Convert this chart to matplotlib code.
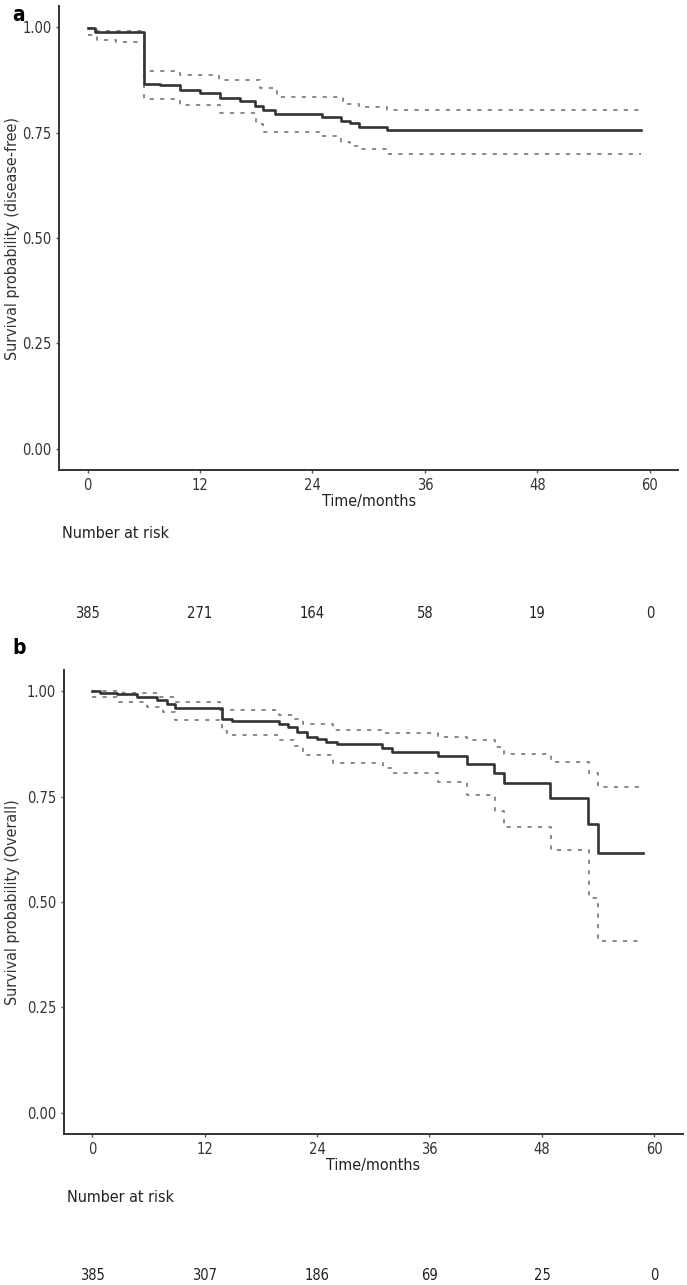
import numpy as np
import matplotlib
matplotlib.use("Agg")
import matplotlib.pyplot as plt

plt.rcParams['font.family'] = ['DejaVu Sans']
plt.rcParams['font.stretch'] = 'condensed'

# Panel a: disease-free survival (step times in months, survival, CI)
dfs_time = [0, 0.8, 6.0, 7.7, 9.9, 12.0, 14.1, 16.3, 17.9, 18.7, 20.0, 25.0, 27.0, 28.0, 29.0, 32.0, 59.0]
dfs_surv = [0.998, 0.988, 0.866, 0.862, 0.852, 0.843, 0.833, 0.825, 0.813, 0.803, 0.794, 0.787, 0.778, 0.772, 0.764, 0.756, 0.756]
dfs_up_time = [0, 1.0, 6.0, 9.9, 14.0, 18.4, 20.2, 27.3, 29.0, 32.0, 59.0]
dfs_up = [0.998, 0.991, 0.896, 0.886, 0.874, 0.855, 0.835, 0.818, 0.810, 0.803, 0.803]
dfs_lo_time = [0, 1.0, 3.0, 6.0, 9.9, 14.1, 18.0, 18.7, 24.8, 27.0, 28.0, 28.9, 32.0, 59.0]
dfs_lo = [0.981, 0.969, 0.965, 0.829, 0.815, 0.797, 0.770, 0.752, 0.742, 0.728, 0.719, 0.711, 0.699, 0.699]
dfs_risk = [385, 271, 164, 58, 19, 0]

# Panel b: overall survival
os_time = [0, 0.85, 2.7, 4.8, 6.9, 8.0, 8.8, 13.9, 14.9, 19.9, 20.9, 21.9, 22.9, 24.0, 25.0, 26.1,
           30.9, 32.0, 36.9, 40.0, 42.9, 43.9, 48.9, 52.9, 54.0, 58.8]
os_surv = [1.0, 0.996, 0.992, 0.987, 0.979, 0.969, 0.959, 0.935, 0.930, 0.922, 0.914, 0.904, 0.892, 0.886,
           0.880, 0.874, 0.866, 0.856, 0.845, 0.827, 0.805, 0.781, 0.746, 0.685, 0.615, 0.615]
os_up_time = [0, 3.3, 6.9, 9.0, 13.7, 19.9, 21.5, 22.5, 25.7, 30.9, 36.9, 40.0, 43.0, 44.0, 49.0, 53.0, 54.0, 58.8]
os_up = [1.0, 0.995, 0.985, 0.975, 0.955, 0.943, 0.935, 0.923, 0.908, 0.900, 0.890, 0.884, 0.868, 0.851,
         0.833, 0.807, 0.772, 0.772]
os_lo_time = [0, 2.7, 5.9, 7.6, 8.9, 13.9, 14.4, 19.9, 21.5, 22.5, 25.7, 31.0, 32.0, 36.9, 40.0, 43.0,
              44.0, 49.0, 53.0, 54.0, 58.8]
os_lo = [0.985, 0.975, 0.963, 0.951, 0.931, 0.906, 0.896, 0.884, 0.870, 0.848, 0.829, 0.817, 0.805, 0.785,
         0.754, 0.716, 0.677, 0.623, 0.509, 0.408, 0.408]
os_risk = [385, 307, 186, 69, 25, 0]

risk_ticks = [0, 12, 24, 36, 48, 60]
yticks = [0.0, 0.25, 0.5, 0.75, 1.0]

W, H = 687, 1285
fig = plt.figure(figsize=(W / 100, H / 100), dpi=100)

axis_col = '#333333'


def px_axes(x0, x1, ytop, ybot):
    return fig.add_axes([x0 / W, 1 - ybot / H, (x1 - x0) / W, (ybot - ytop) / H])


def draw_panel(ax, t, s, tu, su, tl, sl, ylabel, ybounds):
    # confidence band edges first, survival curve on top
    ax.step(tu, su, where='post', color='#808080', lw=1.3, ls=(0, (2.3, 3.5)))
    ax.step(tl, sl, where='post', color='#808080', lw=1.3, ls=(0, (2.3, 3.5)))
    ax.step(t, s, where='post', color='#333333', lw=1.9)
    ax.set_xlim(-3, 63)
    ax.set_ylim(-0.05, 1.05)
    ax.set_xticks(risk_ticks)
    ax.set_yticks(yticks)
    ax.set_yticklabels(['0.00', '0.25', '0.50', '0.75', '1.00'])
    for side in ['top', 'right']:
        ax.spines[side].set_visible(False)
    for side in ['left', 'bottom']:
        ax.spines[side].set_color(axis_col)
        ax.spines[side].set_linewidth(1.4)
    ax.tick_params(length=2.5, width=1, color='#555555', labelsize=10.5, labelcolor='#333333', pad=3)
    ax.set_xlabel('Time/months', fontsize=11.5, color='#222222', labelpad=1)
    ymid = 1 - (ybounds[0] + ybounds[1]) / 2 / H
    fig.text(13 / W, ymid, ylabel, rotation=90, fontsize=11.5, color='#333333', ha='center', va='center')


# panel a
ax1 = px_axes(59.4, 678, 6, 470)
draw_panel(ax1, dfs_time, dfs_surv, dfs_up_time, dfs_up, dfs_lo_time, dfs_lo,
           'Survival probability (disease-free)', (6, 470))
fig.text(12 / W, 1 - 15 / H, 'a', fontsize=15, fontweight='bold', va='center', ha='left')
fig.text(62 / W, 1 - 533 / H, 'Number at risk', fontsize=11.5, va='center', ha='left', color='#222222')
tr1 = matplotlib.transforms.blended_transform_factory(ax1.transData, fig.transFigure)
for xv, n in zip(risk_ticks, dfs_risk):
    ax1.text(xv, 1 - 613 / H, str(n), transform=tr1, ha='center', va='center', fontsize=10.5, color='#222222')

# panel b
ax2 = px_axes(63.9, 682.6, 670, 1134)
draw_panel(ax2, os_time, os_surv, os_up_time, os_up, os_lo_time, os_lo,
           'Survival probability (Overall)', (670, 1134))
fig.text(12 / W, 1 - 648 / H, 'b', fontsize=15, fontweight='bold', va='center', ha='left')
fig.text(67 / W, 1 - 1197 / H, 'Number at risk', fontsize=11.5, va='center', ha='left', color='#222222')
tr2 = matplotlib.transforms.blended_transform_factory(ax2.transData, fig.transFigure)
for xv, n in zip(risk_ticks, os_risk):
    ax2.text(xv, 1 - 1276 / H, str(n), transform=tr2, ha='center', va='center', fontsize=10.5, color='#222222')

fig.savefig('out.png', dpi=100)
